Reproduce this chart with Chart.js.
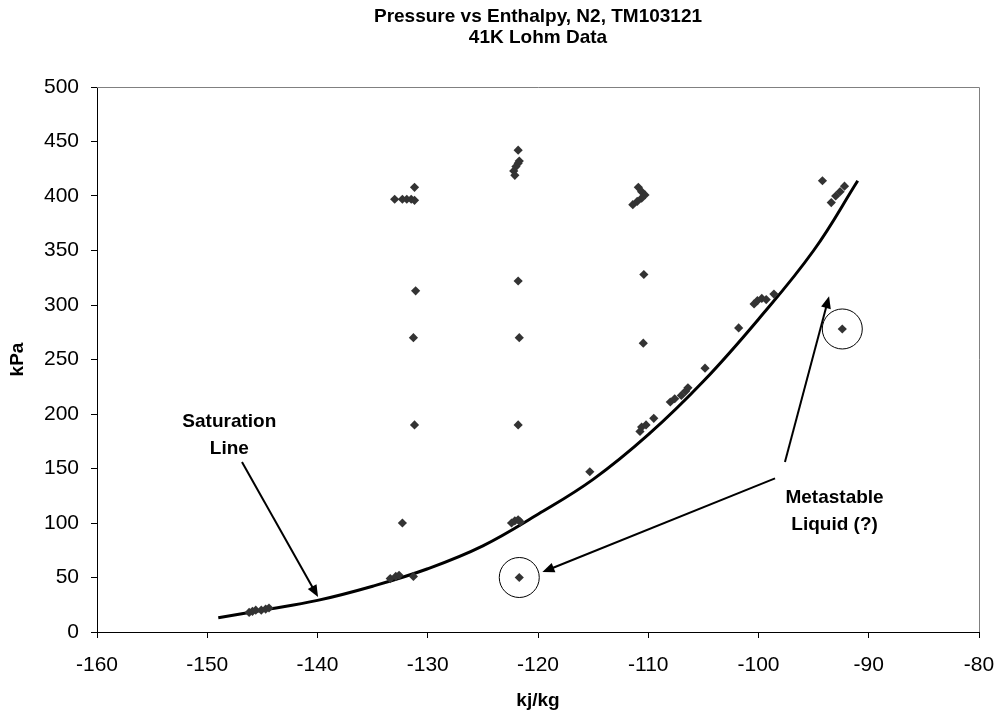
<!DOCTYPE html>
<html>
<head>
<meta charset="utf-8">
<script src="https://cdn.jsdelivr.net/npm/chart.js@4.4.1/dist/chart.umd.min.js"></script>
<style>
  html, body { margin: 0; padding: 0; background: #ffffff; }
  #wrap { width: 1002px; height: 721px; }
</style>
</head>
<body>
<div id="wrap"><canvas id="c" width="1002" height="721"></canvas></div>
<script>
// ---- Data ----
const titleLines = ['Pressure vs Enthalpy, N2, TM103121', '41K Lohm Data'];
const xTitle = 'kj/kg';
const yTitle = 'kPa';

const measX = [-146.2, -145.9, -145.6, -145.1, -144.7, -144.4,
  -133.4, -132.9, -132.6, -131.3,
  -132.3,
  -131.2, -131.3, -131.1,
  -133.0, -132.3, -131.9, -131.5, -131.2, -131.2,
  -121.8, -121.7, -121.8, -122.0, -122.2, -122.1,
  -121.8, -121.7, -121.8,
  -122.4, -122.1, -121.8, -121.6,
  -121.7,
  -110.9, -110.6, -110.3, -110.6, -111.0, -111.4,
  -110.4, -110.45,
  -110.75, -110.6, -110.2, -109.5,
  -108.0, -107.6, -107.0, -106.6, -106.4,
  -115.3, -104.85, -101.8,
  -100.4, -100.1, -99.7, -99.3, -98.6,
  -94.2, -92.2, -92.6, -93.0, -93.4,
  -92.4];
const measY = [18, 19, 20, 20, 21, 22,
  49, 51, 52, 51,
  100,
  190, 270, 313,
  397, 397, 397, 397, 396, 408,
  442, 432, 430, 427, 423, 419,
  322, 270, 190,
  100, 102, 103, 101,
  50,
  408, 404, 401, 398, 395, 392,
  328, 265,
  184, 188, 190, 196,
  211, 214, 217, 221, 224,
  147, 242, 279,
  301, 304, 306, 305, 310,
  414, 409, 404, 400, 394,
  278];

const satX = [-149, -145, -140, -135, -130, -125, -120, -115, -110, -105, -100, -95, -91];
const satY = [13, 20, 29, 42, 58, 79, 108, 140, 181, 230, 287, 350, 414];

const xTicks = [-160, -150, -140, -130, -120, -110, -100, -90, -80];
const yTicks = [0, 50, 100, 150, 200, 250, 300, 350, 400, 450, 500];

// annotations (data coordinates)
const circledX = [-121.7, -92.4];
const circledY = [50, 278];
const satLabel = ['Saturation', 'Line'];
const satLabelPos = [-148.0, 181];
const satArrow = [[-146.85, 156], [-139.95, 32]];
const metaLabel = ['Metastable', 'Liquid (?)'];
const metaLabelPos = [-93.1, 111];
const metaArrows = [
  [[-97.6, 156], [-93.6, 308]],
  [[-98.5, 141], [-119.6, 55]]
];

// ---- Build ----
const measPts = measX.map((x, i) => ({ x: x, y: measY[i] }));
const satPts = satX.map((x, i) => ({ x: x, y: satY[i] }));

const FONT = '"Liberation Sans", Arial, sans-serif';
const BOLD = 'bold 19px ' + FONT;

function drawArrow(ctx, x1, y1, x2, y2) {
  const ang = Math.atan2(y2 - y1, x2 - x1);
  const hl = 12, hw = 5;
  ctx.save();
  ctx.strokeStyle = '#000';
  ctx.fillStyle = '#000';
  ctx.lineWidth = 2;
  ctx.beginPath();
  ctx.moveTo(x1, y1);
  ctx.lineTo(x2 - Math.cos(ang) * hl * 0.8, y2 - Math.sin(ang) * hl * 0.8);
  ctx.stroke();
  ctx.beginPath();
  ctx.moveTo(x2, y2);
  ctx.lineTo(x2 - Math.cos(ang) * hl + Math.sin(ang) * hw, y2 - Math.sin(ang) * hl - Math.cos(ang) * hw);
  ctx.lineTo(x2 - Math.cos(ang) * hl - Math.sin(ang) * hw, y2 - Math.sin(ang) * hl + Math.cos(ang) * hw);
  ctx.closePath();
  ctx.fill();
  ctx.restore();
}

const overlay = {
  id: 'overlay',
  afterDraw(chart) {
    const ctx = chart.ctx;
    const a = chart.chartArea;
    const xs = chart.scales.x, ys = chart.scales.y;
    ctx.save();
    // top/right border
    ctx.strokeStyle = '#808080';
    ctx.lineWidth = 1;
    ctx.beginPath();
    ctx.moveTo(a.left, a.top + 0.5);
    ctx.lineTo(a.right + 0.5, a.top + 0.5);
    ctx.lineTo(a.right + 0.5, a.bottom);
    ctx.stroke();
    // title
    ctx.fillStyle = '#000';
    ctx.font = BOLD;
    ctx.textAlign = 'center';
    ctx.textBaseline = 'middle';
    const cx = (a.left + a.right) / 2;
    ctx.fillText(titleLines[0], cx, 17);
    ctx.fillText(titleLines[1], cx, 38);
    // circles
    ctx.strokeStyle = '#000';
    ctx.lineWidth = 1;
    circledX.forEach((x, i) => {
      ctx.beginPath();
      ctx.arc(xs.getPixelForValue(x), ys.getPixelForValue(circledY[i]), 20, 0, Math.PI * 2);
      ctx.stroke();
    });
    // labels
    const sx = xs.getPixelForValue(satLabelPos[0]), sy = ys.getPixelForValue(satLabelPos[1]);
    ctx.fillText(satLabel[0], sx, sy - 13);
    ctx.fillText(satLabel[1], sx, sy + 14);
    const mx = xs.getPixelForValue(metaLabelPos[0]), my = ys.getPixelForValue(metaLabelPos[1]);
    ctx.fillText(metaLabel[0], mx, my - 13);
    ctx.fillText(metaLabel[1], mx, my + 14);
    ctx.restore();
    // arrows
    drawArrow(ctx, xs.getPixelForValue(satArrow[0][0]), ys.getPixelForValue(satArrow[0][1]),
      xs.getPixelForValue(satArrow[1][0]), ys.getPixelForValue(satArrow[1][1]));
    metaArrows.forEach(ar => {
      drawArrow(ctx, xs.getPixelForValue(ar[0][0]), ys.getPixelForValue(ar[0][1]),
        xs.getPixelForValue(ar[1][0]), ys.getPixelForValue(ar[1][1]));
    });
  }
};

new Chart(document.getElementById('c'), {
  type: 'scatter',
  data: {
    datasets: [
      {
        label: 'Saturation',
        data: satPts,
        showLine: true,
        borderColor: '#000000',
        borderWidth: 3,
        pointRadius: 0,
        tension: 0.4,
        fill: false,
        order: 2
      },
      {
        label: 'Data',
        data: measPts,
        pointStyle: 'rectRot',
        pointRadius: 4.6,
        backgroundColor: '#333333',
        borderColor: '#333333',
        borderWidth: 0,
        showLine: false,
        order: 1
      }
    ]
  },
  options: {
    responsive: false,
    animation: false,
    events: [],
    layout: { padding: { left: 0, right: 23, top: 87, bottom: 0 } },
    plugins: {
      legend: { display: false },
      title: { display: false },
      tooltip: { enabled: false }
    },
    scales: {
      x: {
        type: 'linear',
        min: xTicks[0],
        max: xTicks[xTicks.length - 1],
        afterBuildTicks: s => { s.ticks = xTicks.map(v => ({ value: v })); },
        afterFit: s => { s.height = 89; s.paddingLeft = 0; s.paddingRight = 0; },
        grid: { display: true, drawOnChartArea: false, drawTicks: true, tickLength: 6, color: '#000' },
        border: { display: true, color: '#000', width: 1 },
        ticks: { color: '#000', font: { family: FONT, size: 21 }, padding: 15, maxRotation: 0 },
        title: { display: true, text: xTitle, color: '#000', font: { family: FONT, size: 19, weight: 'bold' }, padding: { top: 0, bottom: 9 } }
      },
      y: {
        type: 'linear',
        min: yTicks[0],
        max: yTicks[yTicks.length - 1],
        afterBuildTicks: s => { s.ticks = yTicks.map(v => ({ value: v })); },
        afterFit: s => { s.width = 97; s.paddingTop = 0; s.paddingBottom = 0; },
        grid: { display: true, drawOnChartArea: false, drawTicks: true, tickLength: 6, color: '#000' },
        border: { display: true, color: '#000', width: 1 },
        ticks: { color: '#000', font: { family: FONT, size: 21 }, padding: 12 },
        title: { display: true, text: yTitle, color: '#000', font: { family: FONT, size: 19, weight: 'bold' }, padding: { top: 6, bottom: 0 } }
      }
    }
  },
  plugins: [overlay]
});
</script>
</body>
</html>
